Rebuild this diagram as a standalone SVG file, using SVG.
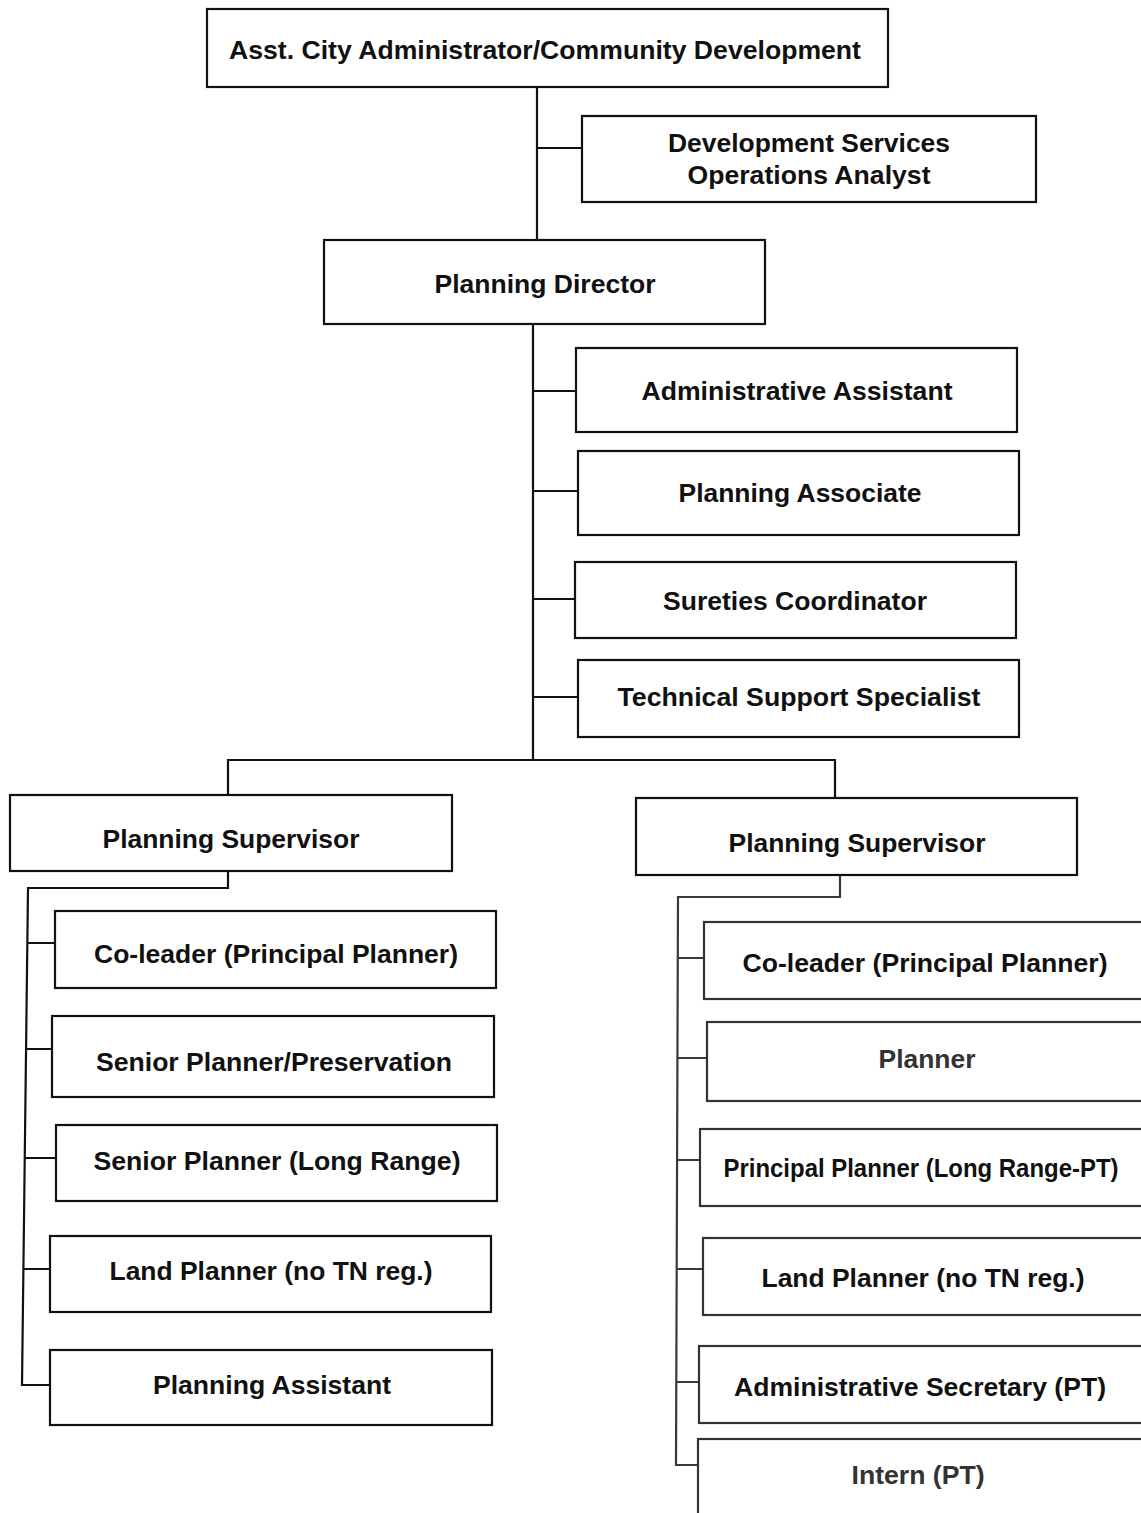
<svg xmlns="http://www.w3.org/2000/svg" width="1141" height="1513" viewBox="0 0 1141 1513">
<style>
.box{fill:#fff;stroke:#111;stroke-width:2.2}
.boxg{fill:#fff;stroke:#333;stroke-width:2.2}
.t{font-family:"Liberation Sans",Arial,sans-serif;font-weight:bold;font-size:26px;fill:#111;text-anchor:middle}
.tg{fill:#333}
.ln{fill:none;stroke:#111;stroke-width:2.2}
.lng{fill:none;stroke:#3a3a3a;stroke-width:2.2}
</style>
<rect width="1141" height="1513" fill="#fff"/>
<g id="connectors">
<path class="ln" d="M537 87 V240 M537 148 H582"/>
<path class="ln" d="M533 324 V760 M533 391 H576 M533 491 H578 M533 599 H575 M533 697 H578"/>
<path class="ln" d="M228 795 V760 H835 V798"/>
<path class="ln" d="M228 871 V888 H28 L22 1385 H50 M27 943 H55 M26 1049 H52 M25 1158 H56 M23 1269 H50"/>
<path class="lng" d="M840 875 V897 H678 L676 1465 H700 M678 958 H704 M678 1058 H707 M677 1160 H700 M677 1269 H703 M676 1382 H699"/>
</g>
<g id="n-asst"><rect class="box" x="207" y="9" width="681" height="78"/><text class="t" x="545" y="59" font-size="27" textLength="632" lengthAdjust="spacingAndGlyphs">Asst. City Administrator/Community Development</text></g>
<g id="n-dsoa"><rect class="box" x="582" y="116" width="454" height="86"/><text class="t" x="809" y="152" textLength="282" lengthAdjust="spacingAndGlyphs">Development Services</text><text class="t" x="809" y="184" textLength="243" lengthAdjust="spacingAndGlyphs">Operations Analyst</text></g>
<g id="n-pd"><rect class="box" x="324" y="240" width="441" height="84"/><text class="t" x="545" y="293" textLength="221" lengthAdjust="spacingAndGlyphs">Planning Director</text></g>
<g id="n-aa"><rect class="box" x="576" y="348" width="441" height="84"/><text class="t" x="797" y="400" textLength="311" lengthAdjust="spacingAndGlyphs">Administrative Assistant</text></g>
<g id="n-pa"><rect class="box" x="578" y="451" width="441" height="84"/><text class="t" x="800" y="502" textLength="243" lengthAdjust="spacingAndGlyphs">Planning Associate</text></g>
<g id="n-sc"><rect class="box" x="575" y="562" width="441" height="76"/><text class="t" x="795" y="610" textLength="264" lengthAdjust="spacingAndGlyphs">Sureties Coordinator</text></g>
<g id="n-tss"><rect class="box" x="578" y="660" width="441" height="77"/><text class="t" x="799" y="706" textLength="363" lengthAdjust="spacingAndGlyphs">Technical Support Specialist</text></g>
<g id="n-ps1"><rect class="box" x="10" y="795" width="442" height="76"/><text class="t" x="231" y="848" textLength="257" lengthAdjust="spacingAndGlyphs">Planning Supervisor</text></g>
<g id="n-ps2"><rect class="box" x="636" y="798" width="441" height="77"/><text class="t" x="857" y="852" textLength="257" lengthAdjust="spacingAndGlyphs">Planning Supervisor</text></g>
<g id="n-l1"><rect class="box" x="55" y="911" width="441" height="77"/><text class="t" x="276" y="963" textLength="364" lengthAdjust="spacingAndGlyphs">Co-leader (Principal Planner)</text></g>
<g id="n-l2"><rect class="box" x="52" y="1016" width="442" height="81"/><text class="t" x="274" y="1071" textLength="356" lengthAdjust="spacingAndGlyphs">Senior Planner/Preservation</text></g>
<g id="n-l3"><rect class="box" x="56" y="1125" width="441" height="76"/><text class="t" x="277" y="1170" textLength="367" lengthAdjust="spacingAndGlyphs">Senior Planner (Long Range)</text></g>
<g id="n-l4"><rect class="box" x="50" y="1236" width="441" height="76"/><text class="t" x="271" y="1280" textLength="323" lengthAdjust="spacingAndGlyphs">Land Planner (no TN reg.)</text></g>
<g id="n-l5"><rect class="box" x="50" y="1350" width="442" height="75"/><text class="t" x="272" y="1394" textLength="238" lengthAdjust="spacingAndGlyphs">Planning Assistant</text></g>
<g id="n-r1"><rect class="boxg" x="704" y="922" width="450" height="77"/><text class="t" x="925" y="972" textLength="365" lengthAdjust="spacingAndGlyphs">Co-leader (Principal Planner)</text></g>
<g id="n-r2"><rect class="boxg" x="707" y="1022" width="450" height="79"/><text class="t tg" x="927" y="1068" textLength="97" lengthAdjust="spacingAndGlyphs">Planner</text></g>
<g id="n-r3"><rect class="boxg" x="700" y="1129" width="450" height="77"/><text class="t" x="921" y="1177" font-size="23" textLength="395" lengthAdjust="spacingAndGlyphs">Principal Planner (Long Range-PT)</text></g>
<g id="n-r4"><rect class="boxg" x="703" y="1238" width="450" height="77"/><text class="t" x="923" y="1287" textLength="323" lengthAdjust="spacingAndGlyphs">Land Planner (no TN reg.)</text></g>
<g id="n-r5"><rect class="boxg" x="699" y="1346" width="450" height="77"/><text class="t" x="920" y="1396" textLength="372" lengthAdjust="spacingAndGlyphs">Administrative Secretary (PT)</text></g>
<g id="n-r6"><rect class="boxg" x="698" y="1439" width="450" height="90"/><text class="t tg" x="918" y="1484" textLength="133" lengthAdjust="spacingAndGlyphs">Intern (PT)</text></g>
</svg>
